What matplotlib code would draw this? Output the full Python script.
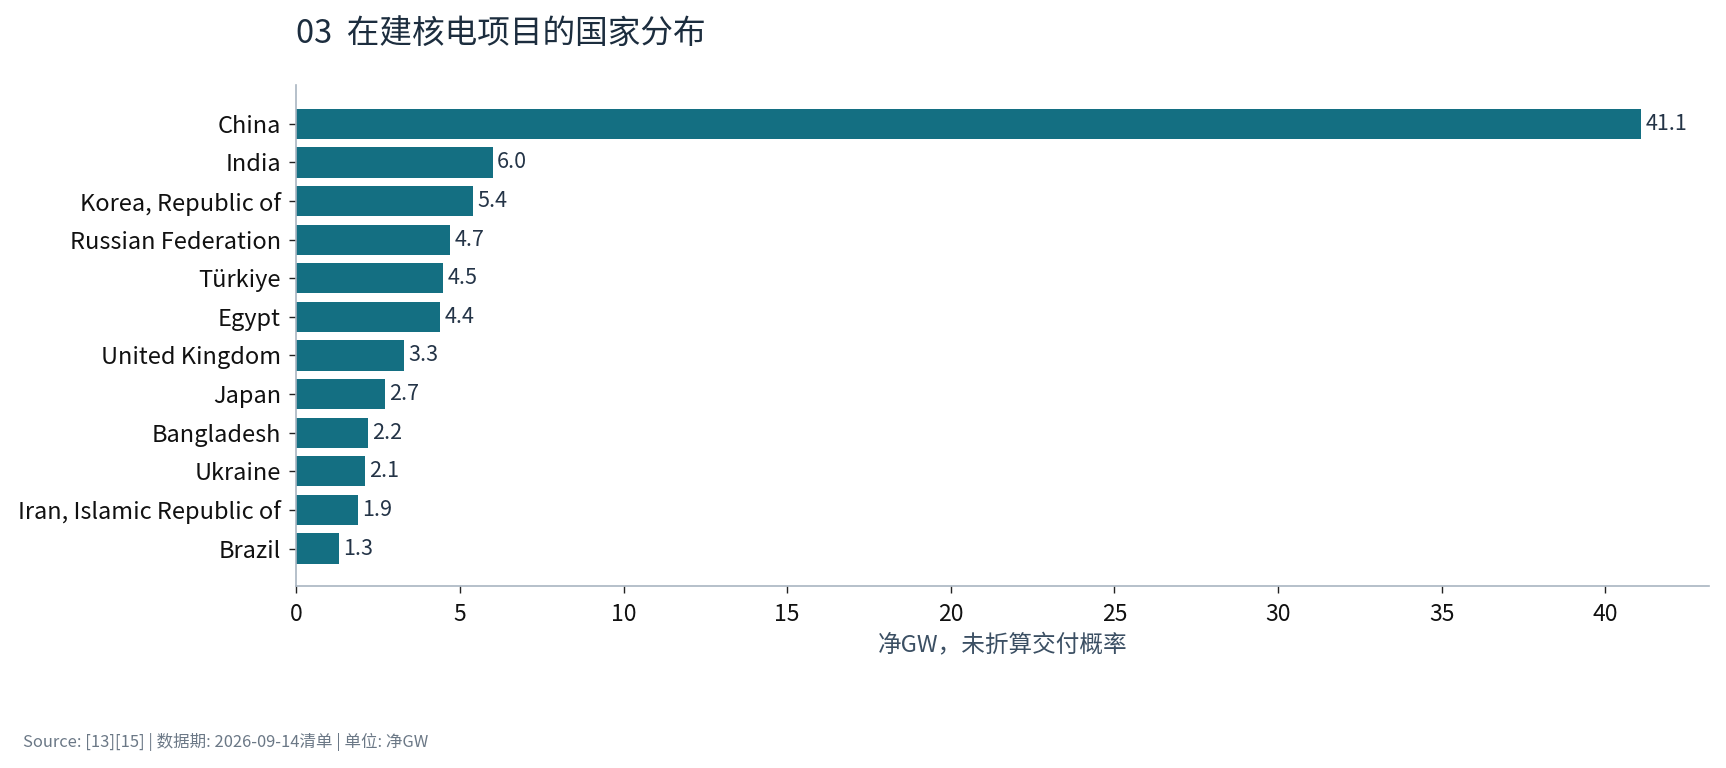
import matplotlib
matplotlib.use("Agg")
import matplotlib.pyplot as plt

plt.rcParams['font.family'] = ['Noto Sans CJK SC', 'DejaVu Sans']

countries = ["China", "India", "Korea, Republic of", "Russian Federation", "Türkiye",
             "Egypt", "United Kingdom", "Japan", "Bangladesh", "Ukraine",
             "Iran, Islamic Republic of", "Brazil"]
values = [41.1, 6.0, 5.4, 4.7, 4.5, 4.4, 3.3, 2.7, 2.2, 2.1, 1.9, 1.3]
value_labels = ["41.1", "6.0", "5.4", "4.7", "4.5", "4.4", "3.3", "2.7", "2.2", "2.1", "1.9", "1.3"]
x_ticks = [0, 5, 10, 15, 20, 25, 30, 35, 40]

title = "03  在建核电项目的国家分布"
xlabel = "净GW，未折算交付概率"
footer = "Source: [13][15] | 数据期: 2026-09-14清单 | 单位: 净GW"

fig = plt.figure(figsize=(17.26, 7.68), dpi=100)
ax = fig.add_axes([0.1716, 0.237, 0.8184, 0.652])

pos = list(range(len(countries)))
bars = ax.barh(pos, values, height=0.78, color="#146f82")
ax.set_ylim(len(countries) - 0.03, -1)
ax.set_yticks(pos)
ax.set_yticklabels(countries, fontsize=17, color="#111111")
ax.set_xticks(x_ticks)
ax.set_xticklabels([str(t) for t in x_ticks], fontsize=16.5, color="#111111")
ax.tick_params(axis='both', length=5, width=1, color="#222222")
ax.tick_params(axis='x', pad=7.5)
ax.tick_params(axis='y', pad=6)

for b, lab in zip(bars, value_labels):
    ax.annotate(lab, (b.get_width(), b.get_y() + b.get_height() / 2),
                xytext=(3, 0), textcoords="offset points",
                va="center", ha="left", fontsize=15.5, color="#243447")

for s in ["top", "right"]:
    ax.spines[s].set_visible(False)
for s in ["left", "bottom"]:
    ax.spines[s].set_color("#a9b5c1")
    ax.spines[s].set_linewidth(1.2)

ax.set_xlabel(xlabel, fontsize=17, color="#3b4f63", labelpad=6)

fig.text(0.1716, 0.956, title, fontsize=23.5, color="#1c2d3e", ha="left", va="center")
fig.text(0.0134, 0.0335, footer, fontsize=11.9, color="#6b7886", ha="left", va="center")

fig.savefig("out.png", dpi=100)
